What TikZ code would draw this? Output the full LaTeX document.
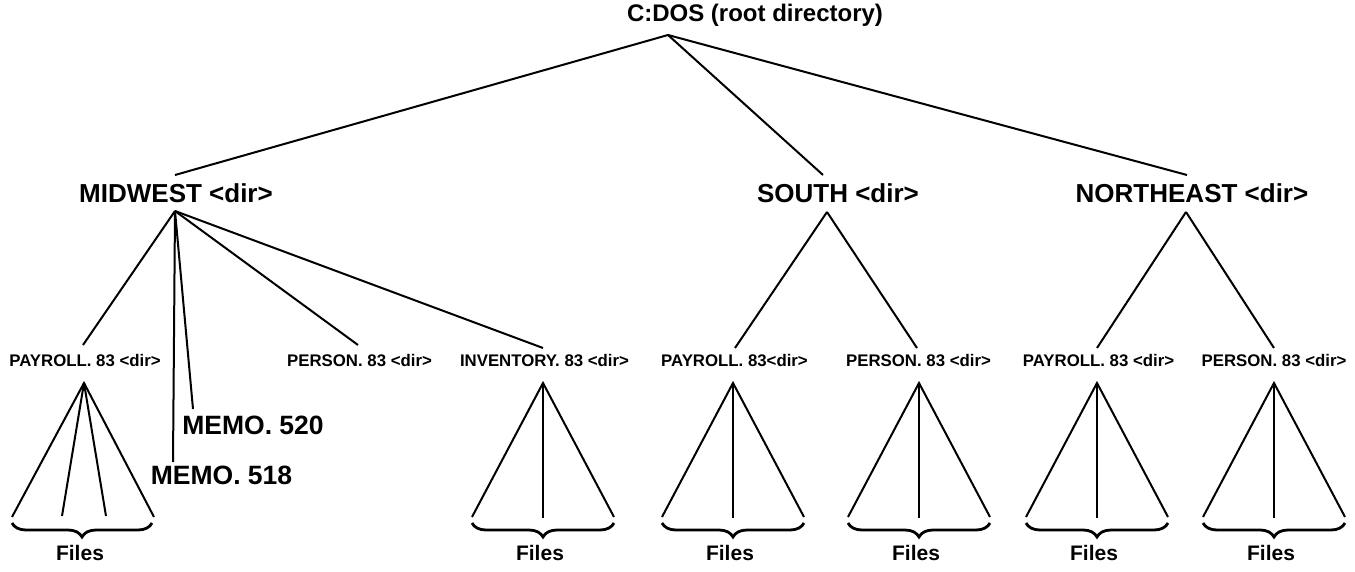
\documentclass[tikz,border=0pt]{standalone}
\usepackage{fontspec}
\setmainfont{Liberation Sans}
\usetikzlibrary{decorations.pathreplacing}
\begin{document}
\begin{tikzpicture}[x=1pt,y=-1pt,
  edge/.style={line width=2pt},
  rootlbl/.style={inner sep=0pt, font=\bfseries\fontsize{24}{26}\selectfont},
  lvla/.style={inner sep=0pt, font=\bfseries\fontsize{26}{28}\selectfont},
  lvlb/.style={inner sep=0pt, font=\bfseries\fontsize{16.8}{18}\selectfont},
  memolbl/.style={inner sep=0pt, font=\bfseries\fontsize{26.5}{28}\selectfont},
  fileslbl/.style={inner sep=0pt, font=\bfseries\fontsize{21}{23}\selectfont},
  filebrace/.style={line width=2.8pt, decorate, decoration={brace, mirror, amplitude=14pt}}]
\useasboundingbox (0,0) rectangle (1355,572);

% root
\node[rootlbl] (root) at (755,15) {C:DOS (root directory)};
\coordinate (rootB) at (668,35);

% level 1
\node[lvla] (mid) at (176,193) {MIDWEST <dir>};
\coordinate (midT) at (175,175);
\coordinate (midB) at (175,211);
\node[lvla] (south) at (838,193) {SOUTH <dir>};
\coordinate (southT) at (823,175);
\coordinate (southB) at (827,212);
\node[lvla] (ne) at (1192,193) {NORTHEAST <dir>};
\coordinate (neT) at (1187,175);
\coordinate (neB) at (1186,212);

\draw[edge] (rootB) -- (midT);
\draw[edge] (rootB) -- (southT);
\draw[edge] (rootB) -- (neT);

% level 2
\node[lvlb] (mp)  at (85,361)    {PAYROLL. 83 <dir>};
\node[lvlb] (mpe) at (359.5,361) {PERSON. 83 <dir>};
\node[lvlb] (inv) at (544.5,361) {INVENTORY. 83 <dir>};
\node[lvlb] (sp)  at (734.5,361) {PAYROLL. 83<dir>};
\node[lvlb] (spe) at (918.5,361) {PERSON. 83 <dir>};
\node[lvlb] (np)  at (1098.5,361){PAYROLL. 83 <dir>};
\node[lvlb] (npe) at (1274,361)  {PERSON. 83 <dir>};
\coordinate (mpT)  at (83,345);
\coordinate (mpeT) at (358,345);
\coordinate (invT) at (543,348);
\coordinate (spT)  at (735,348);
\coordinate (speT) at (917,348);
\coordinate (npT)  at (1097,348);
\coordinate (npeT) at (1274,348);

% memo files
\node[memolbl] (m520) at (253,425) {MEMO. 520};
\node[memolbl] (m518) at (221.5,475) {MEMO. 518};
\coordinate (m520T) at (193,409);
\coordinate (m518T) at (173,462);

\draw[edge] (midB) -- (mpT);
\draw[edge] (midB) -- (m518T);
\draw[edge] (midB) -- (m520T);
\draw[edge] (midB) -- (mpeT);
\draw[edge] (midB) -- (invT);
\draw[edge] (southB) -- (spT);
\draw[edge] (southB) -- (speT);
\draw[edge] (neB) -- (npT);
\draw[edge] (neB) -- (npeT);

% cones
\coordinate (c1) at (84,383);
\draw[edge] (12,517) -- (c1) -- (154,517);
\draw[edge] (c1) -- (62,516);
\draw[edge] (c1) -- (106,516);
\draw[filebrace] (12,523) -- (152,523);
\node[fileslbl] (f1) at (80,553) {Files};

\foreach \ax/\nm in {543/f2, 733/f3, 919/f4, 1097/f5, 1274/f6}{
  \coordinate (apex-\nm) at (\ax,383);
  \draw[edge] (\ax-71,517) -- (apex-\nm) -- (\ax+71,517);
  \draw[edge] (apex-\nm) -- (\ax,518);
  \draw[filebrace] (\ax-71,523) -- (\ax+71,523);
  \node[fileslbl] (\nm) at (\ax-3,553) {Files};
}
\end{tikzpicture}
\end{document}
